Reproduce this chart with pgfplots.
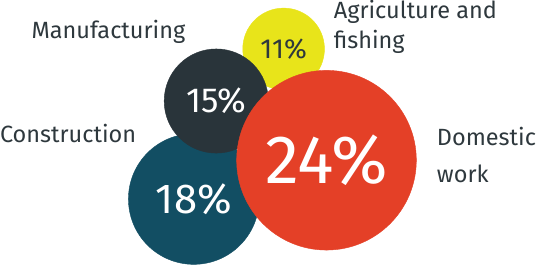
\documentclass[border=0pt]{standalone}
\usepackage{pgfplots}
\pgfplotsset{compat=1.18}
\usepackage{fontspec}
\setmainfont{Fira Sans}
\definecolor{cyel}{HTML}{E8E41A}
\definecolor{cgray}{HTML}{29343A}
\definecolor{cteal}{HTML}{124E63}
\definecolor{cred}{HTML}{E44027}
\definecolor{ctxt}{HTML}{2E383D}
\begin{document}
\begin{tikzpicture}
\begin{axis}[
  width=536pt, height=266pt, scale only axis,
  xmin=0, xmax=536, ymin=0, ymax=266, y dir=reverse,
  hide axis, clip=false,
  point meta=explicit symbolic,
  nodes near coords,
  every node near coord/.append style={anchor=center, inner sep=0pt},
]
% yellow: Agriculture and fishing 11%
\addplot[only marks, mark=*, mark size=40pt, color=cyel, mark options={draw=none, fill=cyel},
  every node near coord/.append style={text=ctxt, font=\fontsize{27}{30}\selectfont}]
  coordinates {(284,55) [11\%]};
% teal: Construction 18%
\addplot[only marks, mark=*, mark size=64pt, color=cteal, mark options={draw=none, fill=cteal},
  every node near coord/.append style={text=white, font=\fontsize{41}{44}\selectfont}]
  coordinates {(196,202) [18\%]};
% gray: Manufacturing 15%
\addplot[only marks, mark=*, mark size=51pt, color=cgray, mark options={draw=none, fill=cgray},
  every node near coord/.append style={text=white, font=\fontsize{34}{36}\selectfont}]
  coordinates {(218,106) [15\%]};
% red: Domestic work 24%
\addplot[only marks, mark=*, mark size=88pt, color=cred, mark options={draw=none, fill=cred},
  every node near coord/.append style={text=white, font=\fontsize{67}{70}\selectfont}]
  coordinates {(326,164) [24\%]};

\begin{scope}[every node/.style={text=ctxt, font=\fontsize{23}{26}\selectfont, anchor=base west, inner sep=0pt}]
\node at (axis cs:333,25) {Agriculture and};
\node at (axis cs:333,55) {fishing};
\node at (axis cs:37,44.5) {Manufacturing};
\node at (axis cs:6,147) {Construction};
\node at (axis cs:434,150) {Domestic};
\node at (axis cs:434,186) {work};
\end{scope}
\end{axis}
\end{tikzpicture}
\end{document}
